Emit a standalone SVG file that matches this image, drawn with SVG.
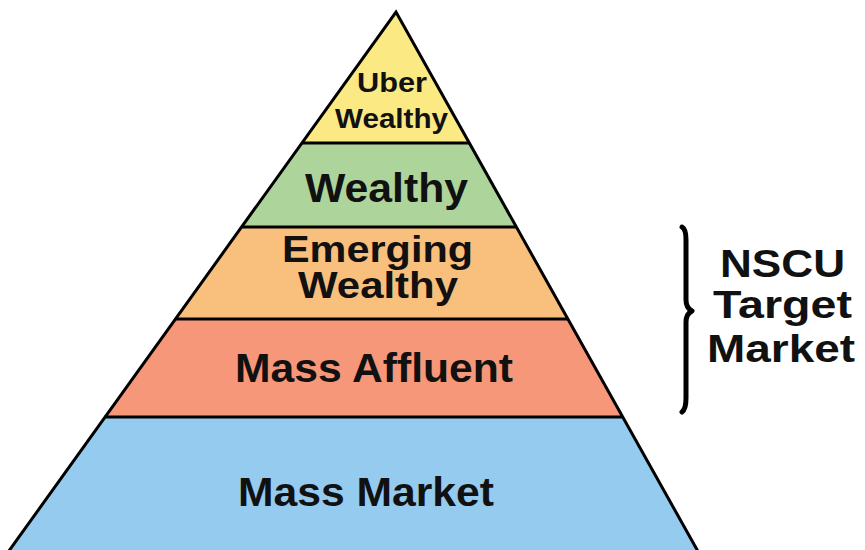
<svg xmlns="http://www.w3.org/2000/svg" width="865" height="550" viewBox="0 0 865 550">
<style>
.band{stroke:none}
.ln{stroke:#000;stroke-width:3;fill:none;stroke-linejoin:miter}
.t{font-family:"Liberation Sans",Arial,sans-serif;font-weight:bold;fill:#111;text-anchor:middle}
</style>
<rect width="865" height="550" fill="#fff"/>
<g id="uber-wealthy">
<polygon class="band" fill="#FBE983" points="396,12 301.7,143 469.4,143"/>
<text class="t" x="392" y="92" font-size="28" textLength="70" lengthAdjust="spacingAndGlyphs">Uber</text>
<text class="t" x="391.5" y="128" font-size="28" textLength="113" lengthAdjust="spacingAndGlyphs">Wealthy</text>
</g>
<g id="wealthy">
<polygon class="band" fill="#ADD49A" points="301.7,143 469.4,143 516.4,227 241.2,227"/>
<text class="t" x="386.5" y="202" font-size="41" textLength="163" lengthAdjust="spacingAndGlyphs">Wealthy</text>
</g>
<g id="emerging-wealthy">
<polygon class="band" fill="#F9BF7C" points="241.2,227 516.4,227 567.9,319 175,319"/>
<text class="t" x="377.5" y="261.5" font-size="37" textLength="191" lengthAdjust="spacingAndGlyphs">Emerging</text>
<text class="t" x="378" y="297.5" font-size="37" textLength="160" lengthAdjust="spacingAndGlyphs">Wealthy</text>
</g>
<g id="mass-affluent">
<polygon class="band" fill="#F7977A" points="175,319 567.9,319 622.8,417 104.4,417"/>
<text class="t" x="374" y="382" font-size="40" textLength="278" lengthAdjust="spacingAndGlyphs">Mass Affluent</text>
</g>
<g id="mass-market">
<polygon class="band" fill="#95CBEE" points="104.4,417 622.8,417 700,555 6,555"/>
<text class="t" x="366" y="506" font-size="40" textLength="256" lengthAdjust="spacingAndGlyphs">Mass Market</text>
</g>
<g id="connectors">
<polyline class="ln" points="6,555 396,12 700,555"/>
<line class="ln" x1="301.7" y1="143" x2="469.4" y2="143"/>
<line class="ln" x1="241.2" y1="227" x2="516.4" y2="227"/>
<line class="ln" x1="175" y1="319" x2="567.9" y2="319"/>
<line class="ln" x1="104.4" y1="417" x2="622.8" y2="417"/>
</g>
<g id="nscu-target-market">
<path d="M682,227 Q686,229 686,240 L686,300 Q686,308 692,311 Q686,314 686,322 L686,398 Q686,409 682,412" fill="none" stroke="#000" stroke-width="5" stroke-linecap="round" stroke-linejoin="round"/>
<text class="t" x="782.5" y="277" font-size="38" textLength="125" lengthAdjust="spacingAndGlyphs">NSCU</text>
<text class="t" x="782.5" y="318" font-size="38" textLength="139" lengthAdjust="spacingAndGlyphs">Target</text>
<text class="t" x="781" y="362" font-size="38" textLength="148" lengthAdjust="spacingAndGlyphs">Market</text>
</g>
</svg>
